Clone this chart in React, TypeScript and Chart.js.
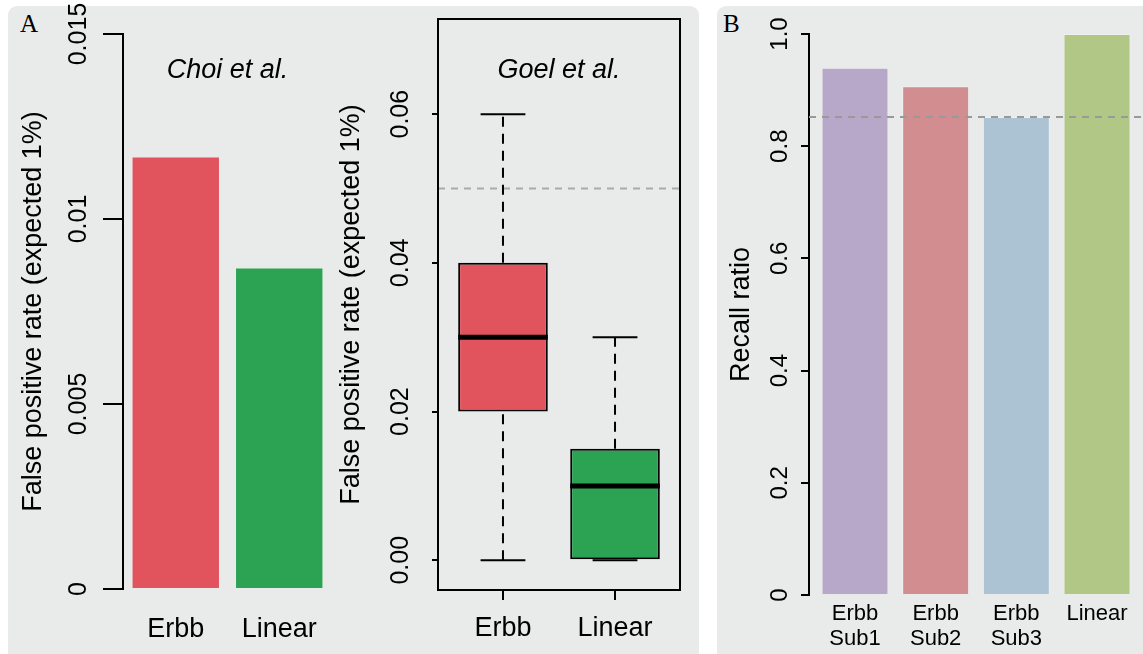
import React, { useEffect, useRef } from "react";
import { Chart, registerables } from "chart.js";

Chart.register(...registerables);

const SANS = "'Liberation Sans', Arial, Helvetica, sans-serif";
const SERIF = "'Liberation Serif', 'Times New Roman', serif";
const PANEL_BG = "#e9eaea";

// ---------- Panel A (left): Choi et al. ----------
const choiCategories = ["Erbb", "Linear"];
const choiValues = [0.01166, 0.00866];
const choiColors = ["#e1535d", "#2ba352"];
const choiTicks = [0, 0.005, 0.01, 0.015];
const choiTickLabels = ["0", "0.005", "0.01", "0.015"];

// ---------- Panel A (middle): Goel et al. boxplot ----------
const goelCategories = ["Erbb", "Linear"];
const goelMin = [0, 0];
const goelQ1 = [0.02, 0];
const goelMedian = [0.03, 0.01];
const goelQ3 = [0.04, 0.015];
const goelMax = [0.06, 0.03];
const goelColors = ["#e1535d", "#2ba352"];
const goelTicks = [0, 0.02, 0.04, 0.06];
const goelTickLabels = ["0.00", "0.02", "0.04", "0.06"];
const goelReference = 0.05;

// ---------- Panel B: Recall ratio ----------
const recallCategories = [["Erbb", "Sub1"], ["Erbb", "Sub2"], ["Erbb", "Sub3"], ["Linear"]];
const recallValues = [0.94, 0.907, 0.852, 1.0];
const recallColors = ["#b7a8ca", "#d18d90", "#acc3d4", "#b1c785"];
const recallTicks = [0, 0.2, 0.4, 0.6, 0.8, 1.0];
const recallTickLabels = ["0", "0.2", "0.4", "0.6", "0.8", "1.0"];
const recallReference = 0.852;

const Y_TITLE = "False positive rate (expected 1%)";

function freezeBox(width?: number, height?: number) {
  return (scale: any) => {
    if (width !== undefined) scale.width = width;
    if (height !== undefined) scale.height = height;
    scale.paddingTop = 0;
    scale.paddingBottom = 0;
    scale.paddingLeft = 0;
    scale.paddingRight = 0;
  };
}

function setTicks(values: number[]) {
  return (scale: any) => {
    scale.ticks = values.map((v) => ({ value: v }));
  };
}

function refLine(id: string, value: number, color: string, dash: number[], width: number, when: "before" | "after") {
  const draw = (chart: any) => {
    const { ctx, chartArea, scales } = chart;
    const py = scales.y.getPixelForValue(value);
    ctx.save();
    ctx.strokeStyle = color;
    ctx.lineWidth = width;
    ctx.setLineDash(dash);
    ctx.beginPath();
    ctx.moveTo(chartArea.left, py);
    ctx.lineTo(chartArea.right, py);
    ctx.stroke();
    ctx.restore();
  };
  return when === "before" ? { id, beforeDatasetsDraw: draw } : { id, afterDatasetsDraw: draw };
}

const framePlugin = {
  id: "frame",
  afterDraw(chart: any) {
    const { ctx, chartArea } = chart;
    ctx.save();
    ctx.strokeStyle = "#000";
    ctx.lineWidth = 2;
    ctx.strokeRect(chartArea.left, chartArea.top, chartArea.right - chartArea.left, chartArea.bottom - chartArea.top);
    ctx.restore();
  },
};

const commonPlugins = { legend: { display: false }, tooltip: { enabled: false } };

function makeChoi(): any {
  return {
    type: "bar",
    data: {
      datasets: [
        {
          data: choiCategories.map((_, i) => ({ x: i + 1, y: choiValues[i] })),
          backgroundColor: choiColors,
          borderWidth: 0,
          barPercentage: 0.835,
          categoryPercentage: 1,
        },
      ],
    },
    options: {
      animation: false,
      responsive: false,
      events: [],
      layout: { padding: { left: 0, right: 8, top: 0, bottom: 0 } },
      plugins: {
        ...commonPlugins,
        title: {
          display: true,
          text: "Choi et al.",
          fullSize: false,
          color: "#000",
          font: { family: SANS, size: 27, style: "italic", weight: "normal" },
          padding: { top: 53.8, bottom: -52.2 },
        },
      },
      scales: {
        x: {
          type: "linear",
          min: 0.49,
          max: 2.51,
          offset: false,
          bounds: "data",
          grid: { display: false, offset: false },
          border: { display: false },
          afterBuildTicks: setTicks(choiCategories.map((_, i) => i + 1)),
          ticks: {
            callback: (v: number) => choiCategories[Math.round(v) - 1],
            color: "#000",
            font: { family: SANS, size: 27 },
            padding: 16,
            maxRotation: 0,
            autoSkip: false,
          },
          afterFit: freezeBox(undefined, 65),
        },
        y: {
          min: 0,
          max: 0.015,
          afterBuildTicks: setTicks(choiTicks),
          ticks: {
            callback: (v: number) => choiTickLabels[choiTicks.indexOf(v)],
            minRotation: 90,
            maxRotation: 90,
            crossAlign: "center",
            padding: -7,
            color: "#000",
            font: { family: SANS, size: 25 },
          },
          grid: { drawOnChartArea: false, drawTicks: true, tickLength: 20, color: "#000", lineWidth: 2 },
          border: { display: true, color: "#000", width: 2 },
          title: {
            display: true,
            text: Y_TITLE,
            color: "#000",
            font: { family: SANS, size: 27 },
            padding: { top: 17, bottom: 0 },
          },
          afterFit: freezeBox(123, undefined),
        },
      },
    },
  };
}

const CAP_HALF = 0.2;
const BOX_HALF = 0.4;

function makeGoel(): any {
  const whisker = {
    type: "line",
    borderColor: "#000",
    borderWidth: 2,
    borderDash: [10, 7],
    pointRadius: 0,
    fill: false,
    order: 1,
  };
  const cap = { type: "line", borderColor: "#000", borderWidth: 2, pointRadius: 0, fill: false, order: 1 };
  const median = { type: "line", borderColor: "#000", borderWidth: 5, pointRadius: 0, fill: false, order: 0 };
  const lines = goelCategories.flatMap((_, i) => {
    const c = i + 1;
    return [
      { ...whisker, data: [{ x: c, y: goelQ3[i] }, { x: c, y: goelMax[i] }] },
      { ...whisker, data: [{ x: c, y: goelMin[i] }, { x: c, y: goelQ1[i] }] },
      { ...cap, data: [{ x: c - CAP_HALF, y: goelMax[i] }, { x: c + CAP_HALF, y: goelMax[i] }] },
      { ...cap, data: [{ x: c - CAP_HALF, y: goelMin[i] }, { x: c + CAP_HALF, y: goelMin[i] }] },
      { ...median, data: [{ x: c - BOX_HALF, y: goelMedian[i] }, { x: c + BOX_HALF, y: goelMedian[i] }] },
    ];
  });
  return {
    type: "bar",
    data: {
      datasets: [
        {
          type: "bar",
          data: goelCategories.map((_, i) => ({ x: i + 1, y: [goelQ1[i], goelQ3[i]] })),
          backgroundColor: goelColors,
          borderColor: "#000",
          borderWidth: 2,
          borderSkipped: false,
          barPercentage: 0.8,
          categoryPercentage: 1,
          order: 3,
        },
        ...lines,
      ],
    },
    options: {
      animation: false,
      responsive: false,
      events: [],
      layout: { padding: { left: 0, right: 20, top: 0, bottom: 0 } },
      plugins: {
        ...commonPlugins,
        title: {
          display: true,
          text: "Goel et al.",
          fullSize: false,
          color: "#000",
          font: { family: SANS, size: 27, style: "italic", weight: "normal" },
          padding: { top: 53.8, bottom: -67.2 },
        },
      },
      scales: {
        x: {
          type: "linear",
          min: 0.42,
          max: 2.58,
          offset: false,
          bounds: "data",
          grid: { display: true, drawOnChartArea: false, drawTicks: true, tickLength: 10, color: "#000", lineWidth: 2, offset: false },
          border: { display: true, color: "#000", width: 2 },
          afterBuildTicks: setTicks(goelCategories.map((_, i) => i + 1)),
          ticks: {
            callback: (v: number) => goelCategories[Math.round(v) - 1],
            color: "#000",
            font: { family: SANS, size: 27 },
            padding: 12,
            maxRotation: 0,
            autoSkip: false,
          },
          afterFit: freezeBox(undefined, 64),
        },
        y: {
          min: -0.004,
          max: 0.0728,
          afterBuildTicks: setTicks(goelTicks),
          ticks: {
            callback: (v: number) => goelTickLabels[goelTicks.indexOf(v)],
            minRotation: 90,
            maxRotation: 90,
            crossAlign: "center",
            padding: 6.7,
            color: "#000",
            font: { family: SANS, size: 25 },
          },
          grid: { drawOnChartArea: false, drawTicks: true, tickLength: 6, color: "#000", lineWidth: 2 },
          border: { display: true, color: "#000", width: 2 },
          title: {
            display: true,
            text: Y_TITLE,
            color: "#000",
            font: { family: SANS, size: 27 },
            padding: { top: 5, bottom: 0 },
          },
          afterFit: freezeBox(108, undefined),
        },
      },
    },
    plugins: [refLine("goelRef", goelReference, "#aaaaaa", [7, 6], 2, "before"), framePlugin],
  };
}

function makeRecall(): any {
  return {
    type: "bar",
    data: {
      datasets: [
        {
          data: recallCategories.map((_, i) => ({ x: i + 1, y: recallValues[i] })),
          backgroundColor: recallColors,
          borderColor: "rgba(255,255,255,0.3)",
          borderWidth: 1,
          barPercentage: 0.83,
          categoryPercentage: 1,
        },
      ],
    },
    options: {
      animation: false,
      responsive: false,
      events: [],
      layout: { padding: { left: 0, right: 0, top: 34, bottom: 0 } },
      plugins: { ...commonPlugins },
      scales: {
        x: {
          type: "linear",
          min: 0.43,
          max: 4.57,
          offset: false,
          bounds: "data",
          grid: { display: false, offset: false },
          border: { display: false },
          afterBuildTicks: setTicks(recallCategories.map((_, i) => i + 1)),
          ticks: {
            callback: (v: number) => recallCategories[Math.round(v) - 1],
            color: "#000",
            font: { family: SANS, size: 22, lineHeight: 1.15 },
            padding: -2,
            maxRotation: 0,
            autoSkip: false,
          },
          afterFit: freezeBox(undefined, 59),
        },
        y: {
          min: 0,
          max: 1,
          afterBuildTicks: setTicks(recallTicks),
          ticks: {
            callback: (v: number) => recallTickLabels[recallTicks.indexOf(v)],
            minRotation: 90,
            maxRotation: 90,
            crossAlign: "center",
            padding: 4.3,
            color: "#000",
            font: { family: SANS, size: 24 },
          },
          grid: { drawOnChartArea: false, drawTicks: true, tickLength: 8, color: "#000", lineWidth: 2 },
          border: { display: true, color: "#000", width: 2 },
          title: {
            display: true,
            text: "Recall ratio",
            color: "#000",
            font: { family: SANS, size: 27 },
            padding: { top: 8, bottom: 0 },
          },
          afterFit: freezeBox(92, undefined),
        },
      },
    },
    plugins: [refLine("recallRef", recallReference, "#999999", [7, 6], 2, "after")],
  };
}

function ChartCanvas(props: { left: number; top: number; width: number; height: number; make: () => any }) {
  const { left, top, width, height, make } = props;
  const ref = useRef<HTMLCanvasElement | null>(null);
  useEffect(() => {
    if (!ref.current) return;
    const chart = new Chart(ref.current, make());
    return () => chart.destroy();
  }, [make]);
  return (
    <canvas
      ref={ref}
      width={width}
      height={height}
      style={{ position: "absolute", left, top, width, height, display: "block" }}
    />
  );
}

export default function App() {
  return (
    <div
      style={{
        position: "fixed",
        left: 0,
        top: 0,
        width: 1143,
        height: 654,
        overflow: "hidden",
        background: "#ffffff",
      }}
    >
      <div
        style={{
          position: "absolute",
          left: 8,
          top: 6,
          width: 691,
          height: 670,
          background: PANEL_BG,
          borderRadius: 9,
        }}
      />
      <div
        style={{
          position: "absolute",
          left: 717,
          top: 6,
          width: 450,
          height: 670,
          background: PANEL_BG,
          borderRadius: 9,
        }}
      />
      <div style={{ position: "absolute", left: 20, top: 11, fontFamily: SERIF, fontSize: 25, lineHeight: 1, color: "#000" }}>A</div>
      <div style={{ position: "absolute", left: 723, top: 11, fontFamily: SERIF, fontSize: 25, lineHeight: 1, color: "#000" }}>B</div>
      <ChartCanvas left={0} top={0} width={340} height={654} make={makeChoi} />
      <ChartCanvas left={330} top={0} width={370} height={654} make={makeGoel} />
      <ChartCanvas left={717} top={0} width={426} height={654} make={makeRecall} />
    </div>
  );
}
